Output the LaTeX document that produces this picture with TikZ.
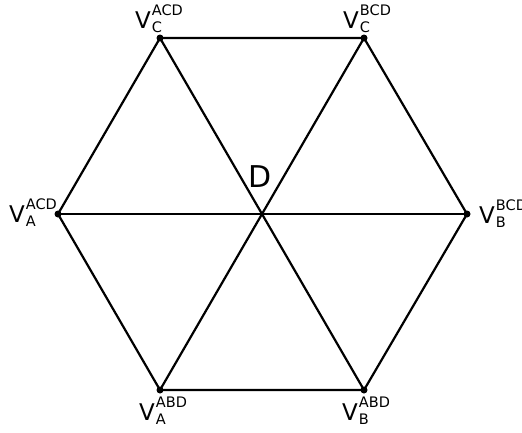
\documentclass[tikz,border=0pt]{standalone}
\usepackage{fontspec}
\setmainfont{DejaVu Sans}
\newcommand{\subf}{\fontsize{14.5}{14.5}\selectfont}
\newcommand{\vlab}[2]{V\kern1pt\rlap{\raisebox{-4pt}{\subf #2}}\raisebox{13pt}{\subf #1}}
\tikzset{
  edge/.style={line width=2.2pt},
  vdot/.style={circle,fill=black,inner sep=0pt,minimum size=7pt},
  vlabel/.style={inner sep=0pt,anchor=base west,font=\fontsize{23}{23}\selectfont},
}
\begin{document}
\begin{tikzpicture}[x=1pt,y=-1pt]
\useasboundingbox (0,0) rectangle (522,432);
\coordinate (CACD) at (160,38);
\coordinate (CBCD) at (364,38);
\coordinate (BBCD) at (467,214);
\coordinate (BABD) at (364,390);
\coordinate (AABD) at (160,390);
\coordinate (AACD) at (58,214);
\coordinate (O) at (262,214);
\draw[edge,line join=round] (CACD) -- (CBCD) -- (BBCD) -- (BABD) -- (AABD) -- (AACD) -- cycle;
\draw[edge,line width=2.8pt] (AACD) -- (BBCD);
\draw[edge] (CACD) -- (BABD);
\draw[edge] (CBCD) -- (AABD);
\foreach \p in {CACD,CBCD,BBCD,BABD,AABD,AACD} \node[vdot] at (\p) {};
\node[vlabel] (lCACD) at (135,28) {\vlab{ACD}{C}};
\node[vlabel] (lCBCD) at (343,28) {\vlab{BCD}{C}};
\node[vlabel] (lAACD) at (9,222) {\vlab{ACD}{A}};
\node[vlabel] (lBBCD) at (479,223) {\vlab{BCD}{B}};
\node[vlabel] (lAABD) at (139,420) {\vlab{ABD}{A}};
\node[vlabel] (lBABD) at (342,420) {\vlab{ABD}{B}};
\node[inner sep=0pt,anchor=base west,font=\fontsize{30}{30}\selectfont] (D) at (248,187) {D};
\end{tikzpicture}
\end{document}
